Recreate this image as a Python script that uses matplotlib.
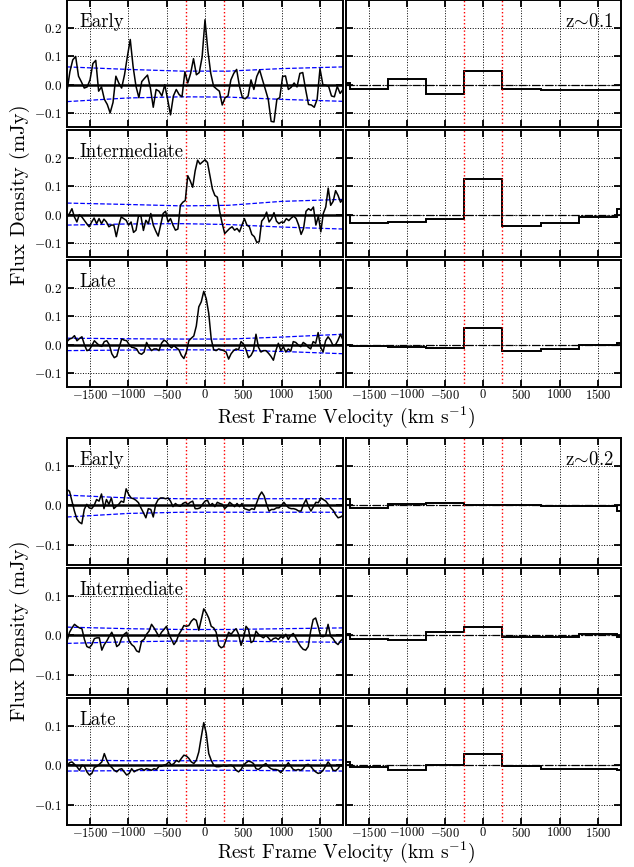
import numpy as np
import matplotlib
matplotlib.use("Agg")
import matplotlib.pyplot as plt

plt.rcParams['font.family'] = 'serif'
plt.rcParams['font.serif'] = ['cmr10', 'DejaVu Serif']
plt.rcParams['mathtext.fontset'] = 'cm'
plt.rcParams['axes.formatter.use_mathtext'] = True

# --- stacked spectra (mJy), left column ---
z1_early = [-0.023, 0.046, 0.088, 0.10, 0.03, 0.01, -0.012, -0.008, 0.017, 0.075, 0.086, -0.023, -0.008,
            -0.052, -0.07, -0.10, -0.063, 0.03, 0.006, -0.012, 0.035, 0.10, 0.16, 0.063, -0.006, -0.046,
            0.011, 0.023, 0.034, -0.012, -0.08, -0.017, -0.023, -0.04, 0.0, -0.052, -0.107, -0.04, -0.017,
            -0.035, -0.043, 0.046, 0.006, 0.04, 0.092, 0.035, 0.043, 0.098, 0.23, 0.12, 0.04, -0.006,
            -0.015, -0.023, -0.072, -0.046, -0.04, 0.017, 0.04, 0.054, -0.006, -0.046, -0.05, -0.04,
            0.017, -0.017, 0.029, 0.052, 0.017, -0.017, -0.052, -0.13, -0.132, -0.052, -0.046, 0.029,
            0.031, -0.017, -0.009, 0.006, -0.008, 0.04, 0.043, -0.017, -0.07, -0.072, -0.08, -0.052,
            0.057, 0.0, -0.002, -0.006, -0.04, -0.043, -0.006, -0.031, -0.017]
z1_inter = [-0.008, 0.004, 0.021, -0.008, -0.026, 0.0, -0.008, -0.02, -0.032, -0.043, -0.026, -0.012,
            -0.032, -0.014, -0.032, -0.016, -0.026, -0.043, -0.037, -0.037, -0.078, -0.037, -0.008,
            -0.014, -0.02, -0.037, -0.026, -0.063, -0.055, -0.005, -0.005, -0.056, -0.02, -0.032, 0.004,
            -0.037, -0.058, -0.076, -0.037, 0.004, 0.012, -0.026, -0.014, -0.037, -0.055, -0.051, 0.033,
            0.044, 0.05, 0.138, 0.12, 0.097, 0.155, 0.193, 0.179, 0.187, 0.194, 0.185, 0.138, 0.091,
            0.068, 0.062, 0.009, -0.032, -0.067, -0.058, -0.049, -0.043, -0.055, -0.049, -0.061, -0.037,
            -0.014, -0.037, -0.043, -0.07, -0.078, -0.098, -0.096, -0.023, -0.012, 0.009, -0.026, -0.014,
            0.007, -0.023, -0.032, -0.026, -0.028, -0.014, -0.021, -0.012, -0.005, -0.014, -0.037,
            -0.07, -0.049, 0.012, 0.021, 0.015, 0.027, -0.037, -0.005, -0.061, 0.004, 0.027, 0.094,
            0.033, 0.047, 0.085, 0.068, 0.044, 0.056]
z1_late = [0.011, 0.02, 0.023, 0.032, 0.014, 0.022, 0.028, 0.0, -0.021, -0.018, -0.003, 0.014, 0.005,
           -0.003, -0.006, 0.011, 0.014, 0.0, -0.032, -0.046, -0.041, -0.009, 0.02, 0.016, 0.014, 0.0,
           -0.009, -0.011, -0.015, -0.03, -0.034, -0.026, 0.008, -0.009, -0.021, -0.015, -0.015, -0.021,
           0.005, 0.016, 0.011, -0.003, -0.011, -0.003, -0.011, -0.018, -0.038, -0.049, -0.026, 0.014,
           0.023, 0.031, 0.066, 0.134, 0.152, 0.189, 0.163, 0.111, 0.02, -0.018, -0.021, -0.015, -0.018,
           -0.021, -0.026, -0.051, -0.032, -0.021, -0.015, -0.018, 0.011, 0.002, -0.018, -0.046, -0.038,
           -0.021, 0.037, -0.009, -0.026, -0.021, -0.021, -0.03, -0.041, -0.055, -0.021, 0.005, -0.021,
           -0.007, -0.026, -0.015, -0.023, 0.011, 0.008, -0.001, -0.007, 0.008, 0.002, -0.009, -0.015,
           0.011, 0.005, 0.043, -0.009, -0.026, 0.014, 0.028, 0.016, -0.003, 0.0, 0.016, 0.037, 0.016]
z2_early = [0.04, 0.036, 0.011, -0.014, -0.034, -0.042, -0.046, -0.01, 0.003, -0.006, -0.008, 0.0, 0.015,
            0.011, 0.029, -0.008, 0.015, 0.003, 0.019, -0.008, -0.002, 0.003, 0.011, 0.008, 0.042, 0.028,
            0.019, 0.017, 0.013, 0.007, -0.006, -0.018, -0.031, -0.008, -0.01, -0.029, 0.003, 0.015,
            0.019, 0.019, 0.017, 0.019, 0.011, -0.003, 0.005, 0.0, -0.002, 0.005, 0.008, 0.003, 0.008,
            0.011, -0.008, -0.008, -0.006, 0.003, 0.011, 0.013, 0.0, 0.005, -0.003, 0.008, 0.005, 0.003,
            -0.008, -0.002, 0.008, 0.003, -0.003, 0.005, -0.003, 0.005, -0.008, -0.01, -0.012, -0.008,
            -0.01, 0.007, 0.024, 0.034, 0.024, 0.003, -0.014, -0.01, -0.01, -0.006, -0.006, 0.0, 0.008,
            0.0, -0.006, -0.008, -0.008, -0.01, -0.014, -0.014, 0.003, 0.015, -0.002, -0.014, -0.003,
            0.008, 0.007, 0.019, 0.015, 0.011, 0.003, -0.006, -0.012, -0.023, -0.031, -0.029, -0.025]
z2_inter = [-0.014, 0.008, 0.019, 0.028, 0.023, 0.019, 0.017, -0.01, -0.028, -0.031, -0.023, -0.008,
            -0.006, -0.006, -0.037, -0.023, -0.014, -0.002, 0.008, -0.006, -0.028, -0.023, -0.006, 0.003,
            0.008, -0.014, -0.023, -0.028, -0.039, -0.042, -0.014, -0.01, 0.003, 0.011, 0.028, 0.019,
            0.008, -0.003, 0.008, 0.015, 0.023, 0.003, -0.01, -0.023, -0.014, 0.003, 0.013, 0.025, 0.023,
            0.025, 0.036, 0.042, 0.038, 0.013, 0.04, 0.067, 0.057, 0.044, 0.023, 0.019, 0.008, -0.025,
            -0.031, -0.028, -0.01, 0.008, 0.003, 0.011, 0.017, 0.003, -0.025, -0.006, 0.023, 0.015,
            -0.018, -0.014, 0.011, 0.003, -0.002, -0.006, 0.0, -0.006, -0.014, -0.008, -0.006, -0.01,
            -0.003, -0.006, 0.003, -0.01, 0.0, 0.005, -0.006, -0.018, -0.028, -0.035, -0.037, -0.028,
            0.011, 0.04, 0.044, 0.023, -0.002, -0.003, 0.0, 0.028, -0.002, -0.008, -0.018, -0.023,
            -0.014, -0.008]
z2_late = [-0.002, 0.007, 0.009, 0.003, -0.003, -0.012, 0.001, -0.002, -0.016, -0.024, -0.02, -0.005,
           -0.002, 0.003, 0.009, 0.03, 0.013, 0.001, -0.005, -0.012, -0.016, -0.01, -0.008, -0.016, -0.024,
           -0.02, -0.008, -0.016, -0.012, -0.01, -0.008, -0.012, -0.008, -0.01, -0.012, -0.008, -0.01,
           -0.002, -0.002, 0.001, 0.003, 0.009, 0.001, 0.005, 0.013, 0.009, 0.018, 0.026, 0.024, 0.018,
           0.009, 0.005, 0.013, 0.034, 0.072, 0.108, 0.081, 0.03, 0.013, 0.001, -0.003, -0.003, -0.002,
           0.001, -0.002, 0.0, 0.001, -0.003, -0.012, -0.016, -0.01, 0.001, 0.007, 0.011, 0.009, 0.005,
           -0.008, -0.01, -0.005, 0.001, 0.005, -0.003, -0.008, -0.01, -0.01, -0.012, -0.018, -0.01,
           -0.002, 0.007, -0.002, -0.01, -0.012, -0.01, -0.012, -0.008, 0.001, 0.003, -0.002, -0.01,
           -0.016, -0.02, -0.018, -0.012, -0.002, 0.009, 0.001, -0.012, -0.013, -0.008, 0.001, -0.002]

# --- 1-sigma noise envelopes at a few velocities ---
sig_vel = [-1800, -1000, -300, 300, 1000, 1800]
z1_early_hi = [0.063, 0.054, 0.048, 0.048, 0.057, 0.063]
z1_early_lo = [-0.060, -0.047, -0.043, -0.044, -0.052, -0.059]
z1_inter_hi = [0.041, 0.036, 0.031, 0.033, 0.047, 0.054]
z1_inter_lo = [-0.037, -0.033, -0.032, -0.035, -0.044, -0.051]
z1_late_hi = [0.023, 0.021, 0.020, 0.020, 0.027, 0.037]
z1_late_lo = [-0.021, -0.019, -0.018, -0.019, -0.024, -0.032]
z2_early_hi = [0.026, 0.019, 0.017, 0.017, 0.017, 0.017]
z2_early_lo = [-0.029, -0.020, -0.017, -0.017, -0.017, -0.017]
z2_inter_hi = [0.021, 0.017, 0.015, 0.015, 0.017, 0.019]
z2_inter_lo = [-0.020, -0.016, -0.014, -0.014, -0.016, -0.017]
z2_late_hi = [0.014, 0.012, 0.012, 0.012, 0.012, 0.014]
z2_late_lo = [-0.014, -0.013, -0.012, -0.012, -0.013, -0.014]

# --- binned spectra, right column (500 km/s bins) ---
bin_edges = [-2250, -1750, -1250, -750, -250, 250, 750, 1250, 1750, 2250]
z1_early_bin = [0.005, -0.015, 0.02, -0.032, 0.048, -0.017, -0.02, -0.019, -0.018]
z1_inter_bin = [0.0, -0.031, -0.027, -0.014, 0.127, -0.040, -0.030, -0.009, 0.02]
z1_late_bin = [0.0, -0.005, -0.007, -0.013, 0.059, -0.022, -0.016, 0.0, 0.006]
z2_early_bin = [0.017, -0.007, 0.003, 0.007, 0.002, 0.002, -0.002, -0.001, -0.013]
z2_inter_bin = [0.003, -0.008, -0.012, 0.008, 0.021, -0.004, -0.005, 0.003, -0.005]
z2_late_bin = [0.008, -0.003, -0.012, 0.002, 0.028, -0.002, -0.009, -0.010, -0.012]

row_names = ['Early', 'Intermediate', 'Late']
groups = [
    dict(z=r'z$\!\sim\!$0.1', ylim=(-0.15, 0.3), yticks=[-0.1, 0.0, 0.1, 0.2],
         spec=[z1_early, z1_inter, z1_late],
         hi=[z1_early_hi, z1_inter_hi, z1_late_hi], lo=[z1_early_lo, z1_inter_lo, z1_late_lo],
         bins=[z1_early_bin, z1_inter_bin, z1_late_bin],
         bottoms=[0.8535, 0.7036, 0.5536], xlab_y=0.519, ylab_y=0.775),
    dict(z=r'z$\!\sim\!$0.2', ylim=(-0.15, 0.17), yticks=[-0.1, 0.0, 0.1],
         spec=[z2_early, z2_inter, z2_late],
         hi=[z2_early_hi, z2_inter_hi, z2_late_hi], lo=[z2_early_lo, z2_inter_lo, z2_late_lo],
         bins=[z2_early_bin, z2_inter_bin, z2_late_bin],
         bottoms=[0.3483, 0.1984, 0.0484], xlab_y=0.0165, ylab_y=0.272),
]

fig = plt.figure(figsize=(6.34, 8.67), dpi=100)
lefts = [0.1057, 0.5457]
w = 0.4353
h = 0.1465


def style(ax, g, show_x, show_y):
    ax.set_xlim(-1800, 1800)
    ax.set_ylim(*g['ylim'])
    ax.set_xticks([-1500, -1000, -500, 0, 500, 1000, 1500])
    ax.set_yticks(g['yticks'])
    ax.grid(True, color='k', linestyle=':', linewidth=0.7)
    ax.tick_params(direction='in', top=True, right=True, length=5, width=1.3, labelsize=9.5,
                   labelbottom=show_x, labelleft=show_y)
    ax.tick_params(axis='x', pad=1, labelsize=9)
    for sp in ax.spines.values():
        sp.set_linewidth(1.4)
    for v in (-250, 250):
        ax.axvline(v, color='red', linestyle=':', linewidth=1.0)


for g in groups:
    for i in range(3):
        axl = fig.add_axes([lefts[0], g['bottoms'][i], w, h])
        style(axl, g, i == 2, True)
        f = g['spec'][i]
        vel = np.linspace(-1800, 1800, len(f))
        axl.axhline(0, color='k', linewidth=1.8)
        axl.plot(sig_vel, g['hi'][i], color='blue', linestyle='--', linewidth=0.9)
        axl.plot(sig_vel, g['lo'][i], color='blue', linestyle='--', linewidth=0.9)
        axl.plot(vel, f, color='k', linewidth=1.1)
        axl.text(0.045, 0.83, row_names[i], transform=axl.transAxes, fontsize=13.5, va='center')

        axr = fig.add_axes([lefts[1], g['bottoms'][i], w - 0.002, h])
        style(axr, g, i == 2, False)
        axr.axhline(0, color='k', linestyle='-.', linewidth=0.9)
        axr.stairs(g['bins'][i], bin_edges, color='k', linewidth=1.4)
        if i == 0:
            axr.text(0.975, 0.83, g['z'], transform=axr.transAxes, fontsize=13.5,
                     va='center', ha='right')

    fig.text(0.546, g['xlab_y'], 'Rest Frame Velocity (km s$^{-1}$)', fontsize=14,
             ha='center', va='center')
    fig.text(0.031, g['ylab_y'], 'Flux Density (mJy)', fontsize=15, rotation=90,
             ha='center', va='center')

fig.savefig('out.png', dpi=100)
